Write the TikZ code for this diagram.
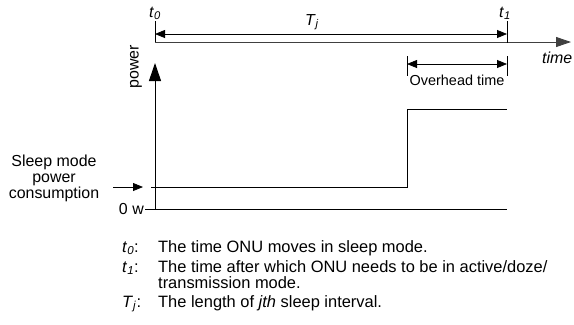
\documentclass[tikz,border=0pt]{standalone}
\usepackage{fontspec}
\setmainfont{Liberation Sans}
\usetikzlibrary{arrows.meta,positioning}
\tikzset{
  lbl/.style={font=\fontsize{16}{16}\selectfont, inner sep=0pt},
  keylbl/.style={font=\fontsize{16.5}{16}\selectfont, inner sep=0pt},
  smalllbl/.style={font=\fontsize{14.5}{15}\selectfont, inner sep=0pt},
  axisline/.style={line width=0.9pt, -{Triangle[length=15bp,width=10bp]}},
  spanline/.style={line width=0.8pt, {Triangle[length=10bp,width=8bp]}-{Triangle[length=10bp,width=8bp]}},
  tickline/.style={line width=0.8pt},
}
\newcommand{\tvar}[2]{\textit{#1}\textsubscript{\textit{#2}}}

\begin{document}
\begin{tikzpicture}[x=1bp,y=-1bp]
        \useasboundingbox (0,0) rectangle (574,324);
        % Time points
        \coordinate (t0) at (155,34);
        \coordinate (t1) at (507,34);
        \coordinate (ohs) at (407,64);
        \coordinate (ohe) at (507,64);
        \node[lbl,anchor=base] (t0lbl) at (155,17) {\tvar{t}{0}};
        \node[lbl,anchor=base] (t1lbl) at (505,17) {\tvar{t}{1}};
        \node[lbl,anchor=base] (tjlbl) at (312,25) {\tvar{T}{j}};
        % Axis
        \coordinate (orig) at (155,42);
        \coordinate (tend) at (571,42);
        \draw[axisline,black!75] (orig) -- (tend);
        \node[lbl,anchor=base west] (timelbl) at (542,63) {\textit{time}};
        \coordinate (pbot) at (155,209);
        \coordinate (ptop) at (155,63);
        \draw[axisline,line width=1pt,-{Triangle[length=18bp,width=12bp]}] (pbot) -- (ptop);
        \node[lbl,rotate=90] (powerlbl) at (136,67) {power};
        % Ticks and spans
        \draw[tickline] ([yshift=-8]t0) -- ([yshift=13]t0);
        \draw[tickline] ([yshift=-9]t1) -- ([yshift=13]t1);
        \draw[spanline] (t0) -- (t1);
        \draw[tickline] ([yshift=-12]ohs) -- ([yshift=8]ohs);
        \draw[tickline] ([yshift=-12]ohe) -- ([yshift=8]ohe);
        \draw[spanline] (ohs) -- (ohe);
        \node[smalllbl,anchor=base] (ohlbl) at (457,85) {Overhead time};
        % Power levels
        \node[lbl,anchor=base east] (zerolbl) at (144,214) {0 w};
        \coordinate (zl) at (145,209);
        \coordinate (zr) at (507,209);
        \draw[tickline] (zl) -- (zr);
        \coordinate (sl) at (151,187);
        \coordinate (sr) at (407,187);
        \coordinate (hl) at (407,109);
        \coordinate (hr) at (507,109);
        \draw[tickline] (sl) -- (sr) -- (hl) -- (hr);
        \node[lbl,align=center] (sleeplbl) at (54,178) {Sleep mode\\power\\consumption};
        \coordinate (arrs) at (113,187);
        \coordinate (arre) at (143,187);
        \draw[tickline,-{Triangle[length=10bp,width=8bp]}] (arrs) -- (arre);
        % Legend
        \node[keylbl,anchor=base west] (k0) at (122,252) {\tvar{t}{0}:};
        \node[keylbl,anchor=base west] (d0) at (158,252) {The time ONU moves in sleep mode.};
        \node[keylbl,anchor=base west] (k1) at (122,272) {\tvar{t}{1}:};
        % two lines: base is the last line
        \node[keylbl,anchor=base west,align=left] (d1) at (158,288) {The time after which ONU needs to be in active/doze/\\transmission mode.};
        \node[keylbl,anchor=base west] (kj) at (122,307) {\tvar{T}{j}:};
        \node[keylbl,anchor=base west] (dj) at (158,307) {The length of \textit{jth} sleep interval.};
      \end{tikzpicture}
\end{document}
